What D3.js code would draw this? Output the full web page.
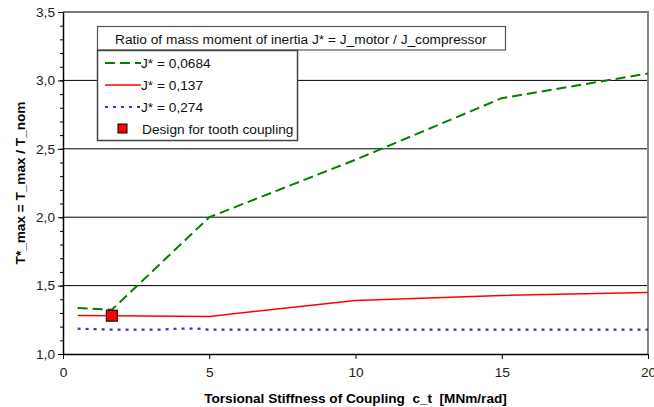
<!DOCTYPE html>
<html>
<head>
<meta charset="utf-8">
<script src="https://cdn.jsdelivr.net/npm/d3@7"></script>
<style>
  body { margin: 0; background: #fff; }
  text { font-family: "Liberation Sans", Arial, sans-serif; }
</style>
</head>
<body>
<svg width="654" height="407"></svg>
<script>
// data
var seriesNames = ["J* = 0,0684", "J* = 0,137", "J* = 0,274"];
var greenX = [0.5, 1.67, 5, 10, 15, 20];
var greenY = [1.336, 1.323, 2.0, 2.42, 2.87, 3.05];
var redX = [0.5, 1.67, 5, 10, 15, 20];
var redY = [1.282, 1.28, 1.275, 1.391, 1.428, 1.45];
var blueX = [0.5, 1.67, 3.3, 4.0, 4.6, 5, 10, 15, 20];
var blueY = [1.185, 1.178, 1.178, 1.186, 1.186, 1.178, 1.178, 1.178, 1.178];
var designX = [1.67];
var designY = [1.28];
var xTicks = [0, 5, 10, 15, 20];
var yTicks = [1.0, 1.5, 2.0, 2.5, 3.0, 3.5];

var svg = d3.select("svg");
var plotL = 63, plotR = 648, plotT = 12, plotB = 354;
var fs = 13.7;

var x = d3.scaleLinear().domain([0, 20]).range([plotL, plotR]);
var y = d3.scaleLinear().domain([1, 3.5]).range([plotB, plotT]);
var fmt = function(d) { return d3.format(".1f")(d).replace(".", ","); };

// grid lines
svg.append("g")
  .selectAll("line")
  .data([1.5, 2.0, 2.5, 3.0])
  .enter().append("line")
  .attr("x1", plotL).attr("x2", plotR)
  .attr("y1", function(d) { return y(d); })
  .attr("y2", function(d) { return y(d); })
  .attr("stroke", "#000")
  .attr("stroke-width", 1);

// plot border top/right (gray)
svg.append("line").attr("x1", plotL).attr("x2", plotR + 1)
  .attr("y1", y(3.5)).attr("y2", y(3.5))
  .attr("stroke", "#777").attr("stroke-width", 2);
svg.append("line").attr("x1", plotR).attr("x2", plotR)
  .attr("y1", y(3.5)).attr("y2", plotB)
  .attr("stroke", "#888").attr("stroke-width", 2);

// axes
var yMinor = svg.append("g")
  .attr("transform", "translate(" + plotL + ",0)")
  .call(d3.axisLeft(y).tickValues(d3.range(10, 36).map(function(d) { return d / 10; }))
    .tickSize(3).tickFormat(""));
yMinor.select(".domain").remove();
svg.append("g")
  .attr("transform", "translate(" + plotL + ",0)")
  .call(d3.axisLeft(y).tickValues(yTicks).tickSize(5).tickPadding(3).tickFormat(fmt).tickSizeOuter(0))
  .call(function(g) {
    g.select(".domain").attr("stroke-width", 1.5);
    g.selectAll("text").attr("font-size", fs).attr("fill", "#222")
      .style("font-family", "Liberation Sans, Arial, sans-serif");
  });
svg.append("g")
  .attr("transform", "translate(0," + plotB + ")")
  .call(d3.axisBottom(x).tickValues(xTicks).tickSize(5).tickPadding(8).tickSizeOuter(0))
  .call(function(g) {
    g.select(".domain").attr("stroke-width", 1.5);
    g.selectAll("text").attr("font-size", fs).attr("fill", "#222")
      .style("font-family", "Liberation Sans, Arial, sans-serif");
  });
svg.selectAll(".domain").attr("stroke", "#000");

// axis titles
svg.append("text")
  .attr("x", (plotL + plotR) / 2).attr("y", 403)
  .attr("text-anchor", "middle")
  .attr("font-size", 13.6).attr("font-weight", "bold")
  .attr("xml:space", "preserve")
  .text("Torsional Stiffness of Coupling  c_t  [MNm/rad]");
svg.append("text")
  .attr("transform", "translate(25," + ((plotT + plotB) / 2) + ") rotate(-90)")
  .attr("text-anchor", "middle")
  .attr("font-size", 13.6).attr("font-weight", "bold")
  .text("T*_max = T_max / T_nom");

// lines
var line = d3.line()
  .x(function(d) { return x(d[0]); })
  .y(function(d) { return y(d[1]); });

var series = [
  { xs: greenX, ys: greenY, color: "#008000", width: 2, dash: "10,5" },
  { xs: redX, ys: redY, color: "#ff0000", width: 1.5, dash: null },
  { xs: blueX, ys: blueY, color: "#3333cc", width: 2.2, dash: "3,5" }
];

svg.append("g")
  .selectAll("path")
  .data(series)
  .enter().append("path")
  .attr("d", function(s) { return line(d3.zip(s.xs, s.ys)); })
  .attr("fill", "none")
  .attr("stroke", function(s) { return s.color; })
  .attr("stroke-width", function(s) { return s.width; })
  .attr("stroke-dasharray", function(s) { return s.dash; });

// design marker
svg.append("g")
  .selectAll("rect")
  .data(d3.zip(designX, designY))
  .enter().append("rect")
  .attr("x", function(d) { return x(d[0]) - 5.5; })
  .attr("y", function(d) { return y(d[1]) - 5.5; })
  .attr("width", 11).attr("height", 11)
  .attr("fill", "#ff0000").attr("stroke", "#000").attr("stroke-width", 1);

// legend title box
svg.append("rect")
  .attr("x", 97.5).attr("y", 26.5).attr("width", 408).attr("height", 23.5)
  .attr("fill", "#fff").attr("stroke", "#555").attr("stroke-width", 1.2);
svg.append("text")
  .attr("x", 115).attr("y", 43.5)
  .attr("font-size", fs).attr("fill", "#111")
  .text("Ratio of mass moment of inertia J* = J_motor / J_compressor");

// legend box
svg.append("rect")
  .attr("x", 97.5).attr("y", 50.5).attr("width", 200).attr("height", 90)
  .attr("fill", "#fff").attr("stroke", "#444").attr("stroke-width", 1.5);

var legend = svg.append("g");
var rows = legend.selectAll("g")
  .data(series)
  .enter().append("g")
  .attr("transform", function(d, i) { return "translate(0," + (63 + i * 22) + ")"; });
rows.append("line")
  .attr("x1", 105).attr("x2", 141).attr("y1", 0).attr("y2", 0)
  .attr("stroke", function(s) { return s.color; })
  .attr("stroke-width", function(s) { return s.width; })
  .attr("stroke-dasharray", function(s) { return s.dash; });
rows.append("text")
  .attr("x", 141).attr("y", 5)
  .attr("font-size", fs).attr("fill", "#111")
  .text(function(d, i) { return seriesNames[i]; });

legend.append("rect")
  .attr("x", 118).attr("y", 124).attr("width", 9).attr("height", 9)
  .attr("fill", "#ff0000").attr("stroke", "#000").attr("stroke-width", 1);
legend.append("text")
  .attr("x", 142).attr("y", 134)
  .attr("font-size", fs).attr("fill", "#111")
  .text("Design for tooth coupling");
</script>
</body>
</html>
